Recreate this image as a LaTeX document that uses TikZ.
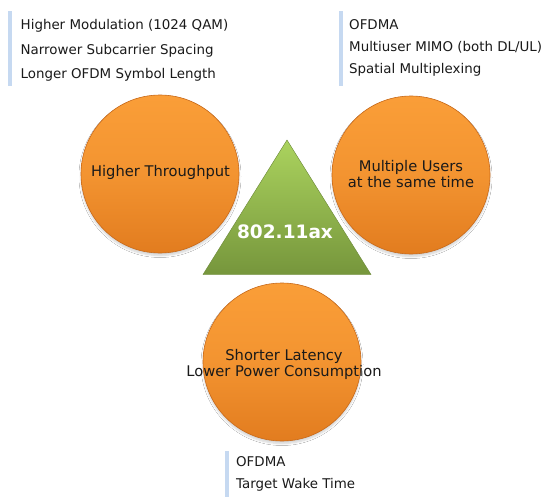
\documentclass[tikz,border=0pt]{standalone}
\usepackage{fontspec}
\setmainfont{DejaVu Sans}
\usetikzlibrary{shadows.blur}
\definecolor{barblue}{HTML}{C6D9F1}
\definecolor{orL}{HTML}{FA9E38}
\definecolor{orD}{HTML}{E27C1F}
\definecolor{orRim}{HTML}{C96A1A}
\definecolor{grL}{HTML}{ABD35E}
\definecolor{grD}{HTML}{76963C}
\definecolor{txt}{HTML}{1A1A1A}
\begin{document}
\begin{tikzpicture}[x=1pt,y=-1pt,
  orb/.style={circle,minimum size=158pt,inner sep=0pt,top color=orL,bottom color=orD,middle color=orL!70!orD,draw=orRim,line width=0.6pt,
    blur shadow={shadow xshift=0pt,shadow yshift=-2.5pt,shadow blur radius=2pt,shadow blur steps=6,shadow opacity=18}},
  orbtxt/.style={font=\fontsize{14.7}{16.5}\selectfont,text=txt,align=center,inner sep=0pt},
  bartxt/.style={font=\fontsize{13.4}{15}\selectfont,text=txt,anchor=base west,inner sep=0pt},
  bar/.style={fill=barblue,draw=none}]
\useasboundingbox (0,0) rectangle (551,500);
\fill[white] (0,0) rectangle (551,500);
% left box
\fill[bar] (8,11) rectangle (12,86);
\node[bartxt] (l1) at (20.5,29.3) {Higher Modulation (1024 QAM)};
\node[bartxt] (l2) at (20.5,55) {Narrower Subcarrier Spacing};
\node[bartxt] (l3) at (20.5,78.3) {Longer OFDM Symbol Length};
% right box
\fill[bar] (338.5,11) rectangle (342.5,86);
\node[bartxt] (r1) at (349,29.3) {OFDMA};
\node[bartxt] (r2) at (349,51.7) {Multiuser MIMO (both DL/UL)};
\node[bartxt] (r3) at (349,73.3) {Spatial Multiplexing};
% bottom box
\fill[bar] (225,451) rectangle (228.5,497);
\node[bartxt] (b1) at (236,466.7) {OFDMA};
\node[bartxt] (b2) at (236,488.7) {Target Wake Time};
% circles
\node[orb] (cl) at (160,174) {};
\node[orb] (cr) at (411,175) {};
\node[orb] (cb) at (282,362) {};
\node[orbtxt,anchor=base] (tl) at (160.5,176.7) {Higher Throughput};
\node[orbtxt,anchor=base] (tr1) at (411,171) {Multiple Users};
\node[orbtxt,anchor=base] (tr2) at (411,187.3) {at the same time};
\node[orbtxt,anchor=base] (tb1) at (284,360) {Shorter Latency};
\node[orbtxt,anchor=base] (tb2) at (284,376.7) {Lower Power Consumption};
% triangle
\coordinate (apex) at (287,140);
\coordinate (tbl) at (203,274.5);
\coordinate (tbr) at (371,274.5);
\path[top color=grL,bottom color=grD,draw=grD!90!black,line width=0.4pt] (apex) -- (tbl) -- (tbr) -- cycle;
\node[font=\bfseries\fontsize{18.5}{20}\selectfont,text=white,inner sep=0pt] (tri) at (285,232) {802.11ax};
\end{tikzpicture}
\end{document}
